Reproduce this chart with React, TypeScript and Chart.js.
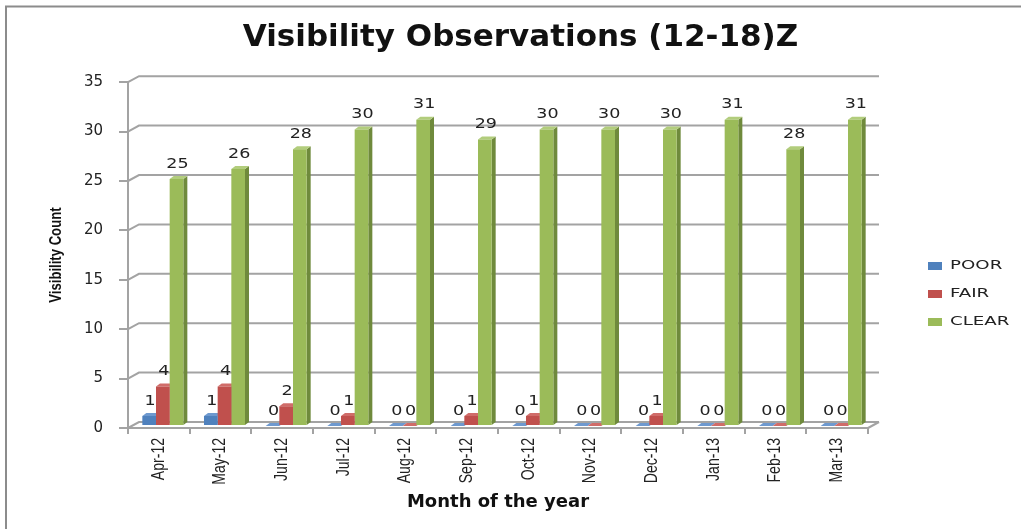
import React, { useEffect, useRef } from 'react';
import { Chart, registerables } from 'chart.js';

Chart.register(...registerables);

// ---------- data ----------
const categories = ['Apr-12', 'May-12', 'Jun-12', 'Jul-12', 'Aug-12', 'Sep-12', 'Oct-12', 'Nov-12', 'Dec-12', 'Jan-13', 'Feb-13', 'Mar-13'];
const seriesNames = ['POOR', 'FAIR', 'CLEAR'];
const poorValues = [1, 1, 0, 0, 0, 0, 0, 0, 0, 0, 0, 0];
const fairValues = [4, 4, 2, 1, 0, 1, 1, 0, 1, 0, 0, 0];
const clearValues = [25, 26, 28, 30, 31, 29, 30, 30, 30, 31, 28, 31];
const yMin = 0;
const yMax = 35;
const yStep = 5;
const chartTitle = 'Visibility Observations (12-18)Z';
const xAxisTitle = 'Month of the year';
const yAxisTitle = 'Visibility Count';

// ---------- styles ----------
const FRONT = ['#4F81BD', '#C0504D', '#9BBB59'];
const SIDE = ['#385D8A', '#8C3836', '#6F8A3C'];
const TOP = ['#6E99CF', '#D06C69', '#B2CD7C'];
const GRID = '#a3a3a3';
const TEXT = '#222222';
const ARIAL = '"Liberation Sans", Arial, sans-serif';
const WIDE = '"DejaVu Sans", Verdana, sans-serif';

const DEPTH_DX = 11;
const DEPTH_DY = -6;
const BAR_SHIFT_X = 4;
const BAR_SHIFT_Y = -2;
const FACE_DX = 4;
const FACE_DY = -3;

function drawStretched(ctx: any, text: string, x: number, y: number, rot: number, sx: number) {
  ctx.save();
  ctx.translate(x, y);
  if (rot) ctx.rotate(rot);
  ctx.scale(sx, 1);
  ctx.fillText(text, 0, 0);
  ctx.restore();
}

const threeDPlugin = {
  id: 'threeD',
  beforeDraw(chart: any) {
    const ctx = chart.ctx;
    ctx.save();
    ctx.strokeStyle = '#8c8c8c';
    ctx.lineWidth = 2;
    ctx.beginPath();
    ctx.moveTo(6, 540);
    ctx.lineTo(6, 6.5);
    ctx.lineTo(1030, 6.5);
    ctx.stroke();
    ctx.restore();
  },
  beforeDatasetsDraw(chart: any) {
    const { ctx, chartArea } = chart;
    const { left, right, bottom } = chartArea;
    const yScale = chart.scales.y;
    ctx.save();
    ctx.strokeStyle = GRID;
    ctx.lineWidth = 2;
    yScale.ticks.forEach((t: any) => {
      const py = yScale.getPixelForValue(t.value);
      ctx.beginPath();
      ctx.moveTo(left, py);
      ctx.lineTo(left + DEPTH_DX, py + DEPTH_DY);
      ctx.lineTo(right + DEPTH_DX, py + DEPTH_DY);
      ctx.stroke();
    });
    ctx.beginPath();
    ctx.moveTo(right, bottom);
    ctx.lineTo(right + DEPTH_DX, bottom + DEPTH_DY);
    ctx.stroke();
    ctx.restore();

    ctx.save();
    ctx.translate(BAR_SHIFT_X, BAR_SHIFT_Y);
    chart.data.datasets.forEach((_ds: any, di: number) => {
      const meta = chart.getDatasetMeta(di);
      meta.data.forEach((el: any) => {
        const { x, y, base, width } = el.getProps(['x', 'y', 'base', 'width'], true);
        const x1 = x - width / 2;
        const x2 = x + width / 2;
        const t = Math.min(y, base);
        const b = Math.max(y, base);
        ctx.fillStyle = SIDE[di];
        ctx.beginPath();
        ctx.moveTo(x2, t);
        ctx.lineTo(x2 + FACE_DX, t + FACE_DY);
        ctx.lineTo(x2 + FACE_DX, b + FACE_DY);
        ctx.lineTo(x2, b);
        ctx.closePath();
        ctx.fill();
        ctx.fillStyle = TOP[di];
        ctx.beginPath();
        ctx.moveTo(x1, t);
        ctx.lineTo(x1 + FACE_DX, t + FACE_DY);
        ctx.lineTo(x2 + FACE_DX, t + FACE_DY);
        ctx.lineTo(x2, t);
        ctx.closePath();
        ctx.fill();
      });
    });
    // stays translated so the library's bar fronts are drawn with the same shift
  },
  afterDatasetsDraw(chart: any) {
    const ctx = chart.ctx;
    ctx.restore();
    ctx.save();
    ctx.font = '14px ' + WIDE;
    ctx.fillStyle = TEXT;
    ctx.textAlign = 'center';
    ctx.textBaseline = 'middle';
    chart.data.datasets.forEach((ds: any, di: number) => {
      const meta = chart.getDatasetMeta(di);
      meta.data.forEach((el: any, i: number) => {
        const { x, y, base } = el.getProps(['x', 'y', 'base'], true);
        const cx = x + BAR_SHIFT_X + 1;
        const cy = Math.min(y, base) + BAR_SHIFT_Y - 15;
        drawStretched(ctx, String(ds.data[i]), cx, cy, 0, 1.25);
      });
    });
    ctx.restore();
  },
  afterDraw(chart: any) {
    const ctx = chart.ctx;
    const xScale = chart.scales.x;
    const { bottom } = chart.chartArea;
    ctx.save();
    // condensed, rotated category labels (positions from the category scale)
    ctx.font = '18px ' + ARIAL;
    ctx.fillStyle = TEXT;
    ctx.textAlign = 'right';
    ctx.textBaseline = 'middle';
    xScale.ticks.forEach((_t: any, i: number) => {
      const px = xScale.getPixelForTick(i);
      drawStretched(ctx, String(xScale.getLabelForValue(i)), px, bottom + 10, -Math.PI / 2, 0.78);
    });
    // condensed y axis title
    ctx.font = 'bold 16px ' + ARIAL;
    ctx.fillStyle = '#111';
    ctx.textAlign = 'center';
    drawStretched(ctx, yAxisTitle, 57, (chart.chartArea.top + bottom) / 2, -Math.PI / 2, 0.82);
    // legend
    ctx.font = '13px ' + WIDE;
    ctx.textAlign = 'left';
    seriesNames.forEach((name, i) => {
      const cy = 266 + i * 28;
      ctx.fillStyle = FRONT[i];
      ctx.fillRect(928, cy - 4, 14, 8);
      ctx.fillStyle = TEXT;
      drawStretched(ctx, name, 950, cy, 0, 1.4);
    });
    ctx.restore();
  },
};

export default function App() {
  const ref = useRef<HTMLCanvasElement | null>(null);

  useEffect(() => {
    if (!ref.current) return;
    const seriesValues = [poorValues, fairValues, clearValues];
    const chart = new Chart(ref.current, {
      type: 'bar',
      data: {
        labels: categories,
        datasets: seriesNames.map((name, i) => ({
          label: name,
          data: seriesValues[i],
          backgroundColor: FRONT[i],
          borderWidth: 0,
          categoryPercentage: 0.665,
          barPercentage: 1,
        })),
      },
      options: {
        responsive: false,
        animation: false,
        devicePixelRatio: 1,
        layout: { padding: { left: 20, right: 0, top: 0, bottom: 0 } },
        plugins: {
          legend: { display: false },
          tooltip: { enabled: false },
          title: {
            display: true,
            text: chartTitle,
            color: '#111',
            font: { family: WIDE, size: 31, weight: 'bold', lineHeight: 1.2 },
            padding: { top: 19, bottom: 26 },
          },
        },
        scales: {
          x: {
            grid: { display: true, drawOnChartArea: false, drawTicks: true, tickLength: 6, color: GRID, lineWidth: 2, offset: true },
            border: { display: true, color: GRID, width: 2 },
            ticks: {
              autoSkip: false,
              minRotation: 90,
              maxRotation: 90,
              padding: 4,
              color: 'rgba(0,0,0,0)',
              font: { family: ARIAL, size: 14 },
            },
            title: {
              display: true,
              text: xAxisTitle,
              color: '#111',
              font: { family: WIDE, size: 18, weight: 'bold', lineHeight: 1.2 },
              padding: { top: 0, bottom: 16 },
            },
            afterFit: (s: any) => { s.height = 101; },
          },
          y: {
            min: yMin,
            max: yMax,
            ticks: { stepSize: yStep, padding: 16, color: TEXT, font: { family: WIDE, size: 15 } },
            grid: { display: true, drawOnChartArea: false, drawTicks: true, tickLength: 9, color: GRID, lineWidth: 2 },
            border: { display: true, color: GRID, width: 2 },
            title: { display: false },
            afterFit: (s: any) => { s.width = 108; },
          },
          y2: {
            type: 'linear',
            position: 'right',
            display: true,
            grid: { display: false, drawTicks: false },
            border: { display: false },
            ticks: { display: false },
            afterFit: (s: any) => { s.width = 153; },
          },
        },
      },
      plugins: [threeDPlugin],
    } as any);
    return () => chart.destroy();
  }, []);

  return (
    <div style={{ position: 'absolute', left: 0, top: 0, width: 1021, height: 529, background: '#fff' }}>
      <canvas ref={ref} width={1021} height={529} style={{ display: 'block', width: 1021, height: 529 }} />
    </div>
  );
}
